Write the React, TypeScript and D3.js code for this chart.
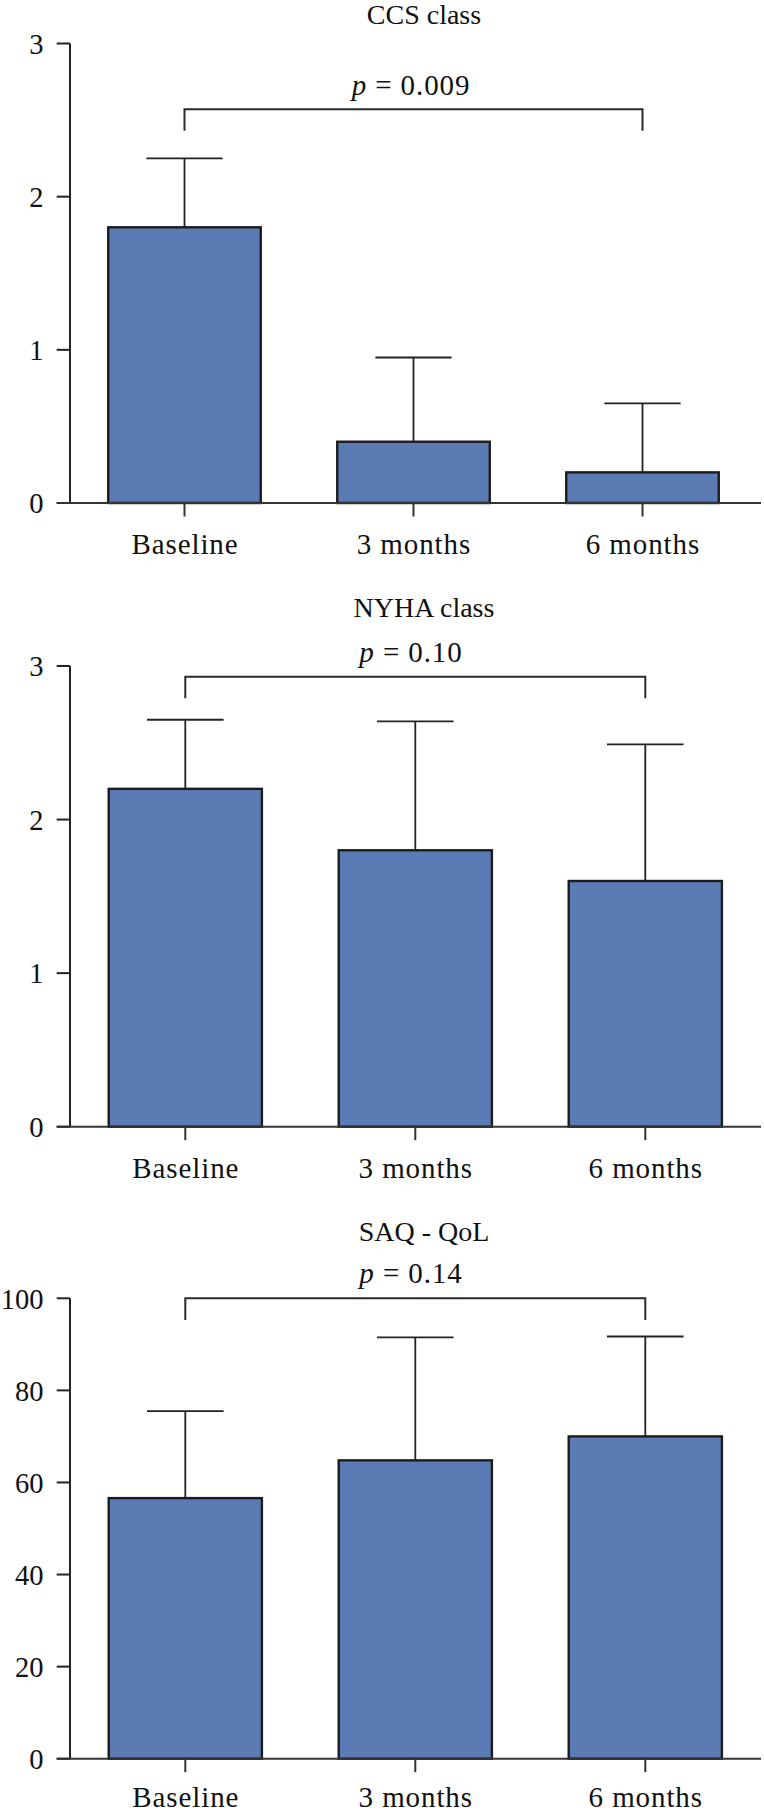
import React from "react";
import * as d3 from "d3";

const categories = ["Baseline", "3 months", "6 months"];

const ccsMean = [1.8, 0.4, 0.2];
const ccsUpper = [2.25, 0.95, 0.65];
const ccsTicks = [0, 1, 2, 3];

const nyhaMean = [2.2, 1.8, 1.6];
const nyhaUpper = [2.65, 2.64, 2.49];
const nyhaTicks = [0, 1, 2, 3];

const saqMean = [56.6, 64.8, 70.0];
const saqUpper = [75.5, 91.5, 91.7];
const saqTicks = [0, 20, 40, 60, 80, 100];

const titles = ["CCS class", "NYHA class", "SAQ - QoL"];
const pValues = ["0.009", "0.10", "0.14"];
// bracket [top, leg bottom] in data units
const ccsBracket = [2.57, 2.43];
const nyhaBracket = [2.93, 2.79];
const saqBracket = [100, 95.3];

const W = 764;
const H = 1810;
const FONT = "Liberation Serif, Times New Roman, DejaVu Serif, Noto Serif, serif";
const BAR_FILL = "#5b7bb5";
const INK = "#1c1c1c";
const TITLE_STYLE: React.CSSProperties = { fontFamily: FONT, fontSize: 28 };
const P_STYLE: React.CSSProperties = { fontFamily: FONT, fontSize: 29, letterSpacing: 0.9 };
const LABEL_STYLE: React.CSSProperties = { fontFamily: FONT, fontSize: 29, letterSpacing: 0.9 };
const TICK_STYLE: React.CSSProperties = { fontFamily: FONT, fontSize: 28.5 };

type PanelCfg = {
  title: string;
  p: string;
  means: number[];
  uppers: number[];
  ticks: number[];
  bracket: number[];
  yMax: number;
  y0: number;
  yTopPx: number;
  titleY: number;
  pY: number;
  xRange: [number, number];
  labelDy: number;
};

const panels: PanelCfg[] = [
  { title: titles[0], p: pValues[0], means: ccsMean, uppers: ccsUpper, ticks: ccsTicks, bracket: ccsBracket, yMax: 3, y0: 503, yTopPx: 43.5, titleY: 24, pY: 95, xRange: [70, 757], labelDy: 50.5 },
  { title: titles[1], p: pValues[1], means: nyhaMean, uppers: nyhaUpper, ticks: nyhaTicks, bracket: nyhaBracket, yMax: 3, y0: 1126.7, yTopPx: 666, titleY: 617, pY: 662, xRange: [70.3, 760.3], labelDy: 51 },
  { title: titles[2], p: pValues[2], means: saqMean, uppers: saqUpper, ticks: saqTicks, bracket: saqBracket, yMax: 100, y0: 1758.7, yTopPx: 1298.3, titleY: 1241, pY: 1283, xRange: [70.3, 760.3], labelDy: 48.5 },
];

function Panel({ cfg }: { cfg: PanelCfg }) {
  const axisX = 70;
  const x = d3.scaleBand<string>().domain(categories).range(cfg.xRange).paddingInner(0.334).paddingOuter(0.167);
  const y = d3.scaleLinear().domain([0, cfg.yMax]).range([cfg.y0, cfg.yTopPx]);
  const bw = x.bandwidth();
  const cx = (c: string) => (x(c) as number) + bw / 2;
  const capHalf = bw / 4;
  const bx1 = cx(categories[0]);
  const bx2 = cx(categories[2]);
  return (
    <g>
      <text x={424} y={cfg.titleY} textAnchor="middle" style={TITLE_STYLE} fill="#111">{cfg.title}</text>
      <text x={411} y={cfg.pY} textAnchor="middle" style={P_STYLE} fill="#111">
        <tspan fontStyle="italic">p</tspan> = {cfg.p}
      </text>
      <path
        d={`M${bx1},${y(cfg.bracket[1])}V${y(cfg.bracket[0])}H${bx2}V${y(cfg.bracket[1])}`}
        fill="none" stroke="#2a2a2a" strokeWidth={2}
      />
      {categories.map((c, i) => (
        <g key={"e" + c}>
          <line x1={cx(c)} x2={cx(c)} y1={y(cfg.means[i])} y2={y(cfg.uppers[i])} stroke="#222" strokeWidth={1.8} />
          <line x1={cx(c) - capHalf} x2={cx(c) + capHalf} y1={y(cfg.uppers[i])} y2={y(cfg.uppers[i])} stroke="#222" strokeWidth={1.8} />
        </g>
      ))}
      {categories.map((c, i) => (
        <rect key={"b" + c} x={x(c)} y={y(cfg.means[i])} width={bw} height={cfg.y0 - y(cfg.means[i])}
          fill={BAR_FILL} stroke={INK} strokeWidth={2.4} />
      ))}
      <line x1={axisX} x2={axisX} y1={y(cfg.yMax)} y2={cfg.y0} stroke="#222" strokeWidth={2} />
      {cfg.ticks.map((t) => (
        <g key={"t" + t}>
          <line x1={56.7} x2={axisX} y1={y(t)} y2={y(t)} stroke="#222" strokeWidth={2} />
          <text x={43.5} y={y(t)} dy="0.36em" textAnchor="end" style={TICK_STYLE} fill="#111">{t}</text>
        </g>
      ))}
      <line x1={56.7} x2={761} y1={cfg.y0} y2={cfg.y0} stroke="#333" strokeWidth={2} />
      {categories.map((c) => (
        <g key={"x" + c}>
          <line x1={cx(c)} x2={cx(c)} y1={cfg.y0} y2={cfg.y0 + 13.5} stroke="#333" strokeWidth={2} />
          <text x={cx(c) + 0.5} y={cfg.y0 + cfg.labelDy} textAnchor="middle" style={LABEL_STYLE} fill="#111">{c}</text>
        </g>
      ))}
    </g>
  );
}

export default function App() {
  return (
    <svg width={W} height={H} viewBox={`0 0 ${W} ${H}`} style={{ position: "absolute", left: 0, top: 0, background: "#fff" }}>
      <rect width={W} height={H} fill="#fff" />
      {panels.map((p, i) => (
        <Panel key={i} cfg={p} />
      ))}
    </svg>
  );
}
